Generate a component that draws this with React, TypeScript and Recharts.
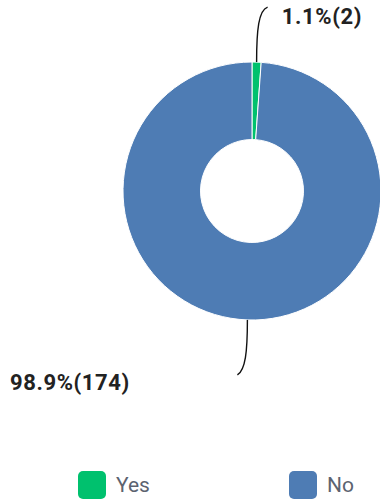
import { PieChart, Pie, Cell, Legend } from "recharts";

const labels = ["Yes", "No"];
const counts = [2, 174];
const colors = ["#00C16E", "#4E7CB4"];

const data = labels.map((name, i) => ({ name, value: counts[i] }));

const RAD = Math.PI / 180;
const W = 380;

const renderLabel = (p: any) => {
  const { cx, cy, midAngle, outerRadius, percent, value } = p;
  const cos = Math.cos(-midAngle * RAD);
  const sin = Math.sin(-midAngle * RAD);
  const sx = cx + outerRadius * cos;
  const sy = cy + outerRadius * sin;
  const up = sin < 0;
  const right = cos >= 0;
  const ex = sx + (right ? 11 : -10);
  const ey = sy + (up ? -55 : 55);
  const path = `M${sx},${sy} C${sx},${sy + (up ? -32 : 32)} ${sx + (right ? 2 : -2)},${ey + (up ? 3 : -5)} ${ex},${ey}`;
  const tx = right ? W - 18 : 10;
  const ty = ey + (up ? 9 : 8);
  return (
    <g>
      <path d={path} stroke="#111" strokeWidth={1.4} fill="none" />
      <text
        x={tx}
        y={ty}
        textAnchor={right ? "end" : "start"}
        dominantBaseline="central"
        fontFamily="Roboto, sans-serif"
        fontWeight={700}
        fontSize={22}
        letterSpacing={0.6}
        fill="#222"
      >
        {`${(percent * 100).toFixed(1)}%(${value})`}
      </text>
    </g>
  );
};

const renderLegend = () => (
  <div style={{ position: "relative", width: W, height: 44 }}>
    {data.map((d, i) => (
      <div
        key={d.name}
        style={{
          position: "absolute",
          left: i === 0 ? 78 : 289,
          top: 11,
          display: "flex",
          alignItems: "center",
        }}
      >
        <div style={{ width: 28, height: 28, borderRadius: 5, background: colors[i] }} />
        <span style={{ marginLeft: 10, fontFamily: "Roboto, sans-serif", fontSize: 21, color: "#5c6370" }}>
          {d.name}
        </span>
      </div>
    ))}
  </div>
);

export default function App() {
  return (
    <div style={{ position: "absolute", left: 0, top: 0, width: W, height: 504 }}>
      <PieChart width={W} height={504} margin={{ top: 0, right: 0, bottom: 0, left: 0 }}>
        <Pie
          data={data}
          dataKey="value"
          nameKey="name"
          cx={252}
          cy={191}
          outerRadius={129}
          innerRadius={51.5}
          startAngle={90}
          endAngle={-270}
          stroke="#fff"
          strokeWidth={1}
          label={renderLabel}
          labelLine={false}
          isAnimationActive={false}
        >
          {data.map((d, i) => (
            <Cell key={d.name} fill={colors[i]} />
          ))}
        </Pie>
        <Legend content={renderLegend} wrapperStyle={{ position: "absolute", left: 0, top: 460, width: W, height: 44 }} />
      </PieChart>
    </div>
  );
}
